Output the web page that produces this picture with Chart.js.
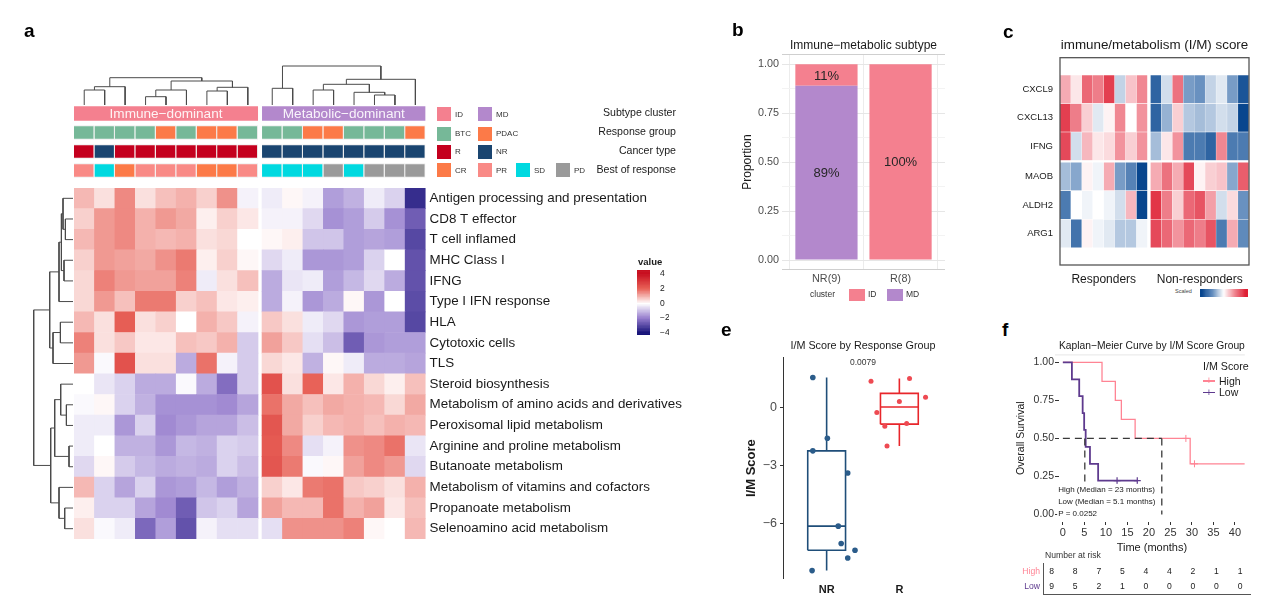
<!DOCTYPE html>
<html><head><meta charset="utf-8"><title>Immune-metabolic subtypes</title>
<script src="https://cdn.jsdelivr.net/npm/chart.js@4.4.1/dist/chart.umd.min.js"></script>
<style>
html,body{margin:0;padding:0;background:#fff;}
body{position:relative;width:1280px;height:615px;overflow:hidden;font-family:"Liberation Sans",Arial,Helvetica,sans-serif;color:#1a1a1a;}
canvas{position:absolute;}
.t{position:absolute;white-space:nowrap;line-height:1;}
.sq{position:absolute;}
</style></head><body>
<script>
// ================= DATA =================
// ---- panel a ----
const pathways = ['Antigen processing and presentation','CD8 T effector','T cell inflamed','MHC Class I','IFNG','Type I IFN response','HLA','Cytotoxic cells','TLS','Steroid biosynthesis','Metabolism of amino acids and derivatives','Peroxisomal lipid metabolism','Arginine and proline metabolism','Butanoate metabolism','Metabolism of vitamins and cofactors','Propanoate metabolism','Selenoamino acid metabolism'];
const subtypeGroups = ['Immune−dominant','Metabolic−dominant'];
const subtypeSizes = [9, 8];
const annotRows = ['Subtype cluster','Response group','Cancer type','Best of response'];
const responseGroup = ['BTC','BTC','BTC','BTC','PDAC','BTC','PDAC','PDAC','BTC','BTC','BTC','PDAC','PDAC','BTC','BTC','BTC','PDAC'];
const cancerType = ['R','NR','R','R','R','R','R','R','R','NR','NR','NR','NR','NR','NR','NR','NR'];
const bestResponse = ['PR','SD','CR','PR','PR','PR','CR','CR','PR','SD','SD','SD','PD','SD','PD','PD','PD'];
const heatA = [
 [0.9,0.4,1.5,0.4,0.8,1.0,0.6,1.4,-0.2, -0.3,0.1,-0.2,-1.5,-1.2,-0.3,-0.7,-3.5],
 [0.6,1.3,1.5,1.0,1.3,1.1,0.2,0.6,0.3, -0.2,-0.2,-0.6,-1.7,-1.5,-0.8,-1.7,-2.6],
 [0.9,1.3,1.5,1.0,0.9,1.0,0.4,0.5,0.0, 0.1,0.2,-0.9,-0.9,-1.5,-1.4,-1.5,-3.0],
 [0.6,1.3,1.2,1.1,1.4,1.7,0.2,0.6,0.1, -0.6,-0.3,-1.6,-1.6,-1.5,-0.7,0.0,-2.8],
 [0.5,1.6,1.3,1.2,1.2,1.6,-0.3,0.4,0.8, -1.3,-0.4,-0.3,-1.5,-1.1,-0.6,-1.3,-2.8],
 [0.5,1.3,0.8,1.7,1.7,0.6,0.8,0.3,0.2, -1.3,-0.2,-1.6,-1.3,0.1,-1.6,0.0,-2.9],
 [0.9,0.4,2.1,0.4,0.6,0.0,1.0,0.7,-0.2, 0.7,0.4,-0.3,-0.6,-1.6,-1.5,-1.5,-3.0],
 [1.6,0.4,0.7,0.3,0.3,0.8,0.7,1.0,-0.8, 1.2,0.7,-0.5,-1.0,-2.6,-1.6,-1.5,-1.5],
 [1.3,-0.1,2.4,0.4,0.4,-1.3,1.8,-0.2,-0.8, 0.5,0.3,-1.2,0.1,-0.3,-1.3,-1.3,-1.4],
 [0.0,-0.4,-0.7,-1.3,-1.3,-0.1,-1.3,-2.3,-0.8, 2.4,0.4,2.0,0.3,1.0,0.5,0.2,0.8],
 [-0.1,0.1,-0.7,-1.2,-1.7,-1.7,-1.7,-1.8,-1.4, 1.8,1.1,0.8,1.1,1.0,0.9,0.5,1.1],
 [-0.3,-0.3,-1.6,-0.7,-1.8,-1.6,-1.4,-1.4,-1.0, 2.3,1.1,0.6,0.9,1.0,0.8,1.0,0.9],
 [-0.3,0.0,-1.2,-1.2,-1.6,-1.1,-1.2,-0.7,-0.8, 2.2,1.5,-0.5,-0.2,1.4,1.5,1.8,-0.4],
 [-0.6,0.1,-0.8,-1.1,-1.3,-1.2,-1.3,-0.7,-1.0, 2.3,1.7,-0.1,0.1,1.2,1.5,1.3,-0.6],
 [0.9,-0.7,-1.4,-0.7,-1.6,-1.5,-1.1,-1.5,-1.2, 0.6,0.3,1.7,1.8,0.7,0.6,0.4,1.0],
 [0.2,-0.7,-0.7,-1.4,-1.8,-2.6,-0.9,-0.7,-1.4, 1.2,0.9,0.9,1.8,1.0,1.2,0.3,0.8],
 [0.4,-0.1,-0.3,-2.4,-1.5,-2.8,-0.2,-0.5,-0.5, -0.5,1.4,1.4,1.4,1.6,0.1,0.0,0.9]
];
// dendrogram merges: [childA, childB, height]; leaves 0..16, merge k -> node 17+k
const colMerges = [[0,1,15],[17,2,18.3],[3,4,8.3],[19,5,15],[6,7,14],[21,8,17.7],[20,22,24],[18,23,27.3],
 [9,10,16.7],[11,12,15],[14,15,10],[13,27,12.7],[26,28,20.7],[29,16,25.7],[25,30,39]];
const rowMerges = [[1,2,7.6],[0,17,10],[3,4,9],[18,19,11.6],[20,5,14],[6,7,12.6],[22,8,20],[21,23,23.3],
 [10,11,6.6],[9,25,12.3],[12,13,4],[26,27,18.3],[15,16,8.3],[14,29,14],[28,30,22.3],[24,31,39.3]];
const valueTicks = [-4,-2,0,2,4];
// ---- panel b ----
const propCats = ['NR(9)','R(8)'];
const propMD = [0.89, 0];
const propID = [0.11, 1.00];
const clusterKeys = ['ID','MD'];
// ---- panel c ----
const genesC = ['CXCL9','CXCL13','IFNG','MAOB','ALDH2','ARG1'];
const groupsC = ['Responders','Non-responders'];
const groupSizesC = [8, 9];
const rowGroupSizesC = [3, 3];
const heatC = [
 [0.7,0.2,1.3,1.1,1.7,-0.4,0.5,1.0, -1.6,-0.3,1.2,-0.9,-1.0,-0.4,-0.2,-0.9,-1.8],
 [1.7,1.1,0.4,-0.2,0.1,1.0,0.0,0.9, -1.6,-0.7,0.4,-0.5,-0.6,-0.5,-0.3,-0.4,-2.0],
 [1.6,-0.3,0.6,0.2,0.3,0.9,0.4,0.9, -0.6,0.2,0.9,-1.3,-1.3,-1.6,1.0,-1.3,-1.3],
 [-0.6,-0.8,0.1,-0.1,0.7,-0.9,-1.2,-2.2, 0.7,1.2,0.7,1.6,0.1,0.4,0.5,-0.8,1.4],
 [-1.3,0.0,-0.1,0.0,-0.1,-0.3,0.6,-2.2, 1.8,1.1,0.4,1.3,1.5,0.8,-0.3,0.3,-1.0],
 [-0.2,-1.4,0.1,-0.1,-0.2,-0.5,-0.5,-0.1, 1.6,1.3,0.9,1.3,1.1,1.5,-1.3,0.7,-1.1]
];
const scaledTicks = [-2,-1,0,1,2];
// ---- panel e ----
const respGroups = ['NR','R'];
const scoreNR = [1.55,-1.6,-2.25,-3.4,-6.15,-7.05,-7.4,-7.8,-8.45];
const jitterNR = [-0.19,0.01,-0.19,0.29,0.16,0.2,0.39,0.29,-0.2];
const scoreR = [1.35,1.5,0.52,0.31,-0.27,-0.98,-0.83,-2.0];
const jitterR = [-0.39,0.14,0.36,0,-0.31,-0.2,0.1,-0.17];
const pValueE = '0.0079';
const scoreTicks = [-6,-3,0];
// ---- panel f ----
const kmHighTime = [0,9.1,12.2,13.6,16.8,29.6,42.3];
const kmHighSurv = [1,0.875,0.75,0.625,0.5,0.333,0.333];
const kmLowTime = [0,2.1,3.8,4.6,4.95,5.3,6.3,8.2,17.3];
const kmLowSurv = [1,0.889,0.778,0.667,0.556,0.444,0.333,0.222,0.222];
const censorHighTime = [28.6,30.6];
const censorHighSurv = [0.5,0.333];
const censorLowTime = [12.6,17.3];
const censorLowSurv = [0.222,0.222];
const medianHigh = 23, medianLow = 5.1;
const kmTimeTicks = [0,5,10,15,20,25,30,35,40];
const kmSurvTicks = [0,0.25,0.5,0.75,1];
const kmNotes = ['High (Median = 23 months)','Low (Median = 5.1 months)','P = 0.0252'];
const riskGroups = ['High','Low'];
const riskHigh = [8,8,7,5,4,4,2,1,1];
const riskLow = [9,5,2,1,0,0,0,0,0];

// ================= STYLE / HELPERS =================
const FONT = '"Liberation Sans", Arial, Helvetica, sans-serif';
Chart.defaults.font.family = FONT;
Chart.defaults.font.size = 11;
Chart.defaults.color = '#1a1a1a';
Chart.defaults.animation = false;
Chart.defaults.events = [];
Chart.defaults.plugins.legend.display = false;
Chart.defaults.plugins.tooltip.enabled = false;

const subtypeColors = ['#F4808F','#B388CC'];
const responseColors = {BTC:'#76B898', PDAC:'#FC7A48'};
const cancerColors = {R:'#C4001E', NR:'#1A4570'};
const bestColors = {CR:'#FC7A48', PR:'#F98A86', SD:'#00D9E0', PD:'#9A9A9A'};
const pink = '#F4808F', purple = '#B388CC';

function rgb(c){return 'rgb('+c.map(v=>Math.round(v)).join(',')+')';}
function ramp(stops, v){
  if (v <= stops[0][0]) return rgb(stops[0][1]);
  for (let i=1;i<stops.length;i++){
    if (v <= stops[i][0]) {
      const [v0,c0] = stops[i-1], [v1,c1] = stops[i]; const t=(v-v0)/(v1-v0);
      return rgb(c0.map((c,k)=>c+(c1[k]-c)*t));
    }
  }
  return rgb(stops[stops.length-1][1]);
}
const stopsA = [[-4,[22,18,120]],[-2,[150,125,205]],[0,[255,255,255]],[2,[232,98,88]],[4,[200,16,32]]];
const stopsC = [[-2,[8,70,142]],[-1,[105,145,192]],[0,[255,255,255]],[1,[240,135,146]],[2,[222,32,52]]];
const colA = v => ramp(stopsA, v);
const colC = v => ramp(stopsC, v);
const noPad = s => { s.paddingTop = 0; s.paddingBottom = 0; };

function mk(left, top, w, h, cfg){
  const c = document.createElement('canvas');
  c.width = w; c.height = h;
  c.style.left = left+'px'; c.style.top = top+'px'; c.style.width = w+'px'; c.style.height = h+'px';
  document.body.appendChild(c);
  cfg.options = cfg.options || {};
  cfg.options.responsive = false;
  cfg.options.maintainAspectRatio = false;
  cfg.options.devicePixelRatio = 1;
  return new Chart(c, cfg);
}
function addText(x, y, s, o={}){
  const d = document.createElement('div'); d.className='t'; d.textContent = s;
  const size = o.size || 11; d.style.fontSize = size+'px';
  d.style.top = (y - size/2)+'px';
  if (o.align === 'right') d.style.right = (1280 - x)+'px'; else d.style.left = x+'px';
  if (o.align === 'center') d.style.transform = 'translateX(-50%)';
  if (o.bold) d.style.fontWeight = 'bold';
  if (o.color) d.style.color = o.color;
  document.body.appendChild(d); return d;
}
function addBox(x, y, w, h, color){
  const d = document.createElement('div'); d.className='sq';
  Object.assign(d.style,{left:x+'px',top:y+'px',width:w+'px',height:h+'px',background:color});
  document.body.appendChild(d);
}
function textPlugin(id, items){
  return { id, afterDatasetsDraw(chart){
    const {ctx, scales} = chart;
    items.forEach(it => {
      ctx.save(); ctx.font = it.font; ctx.textAlign = it.align || 'center'; ctx.textBaseline = 'middle';
      const px = scales.x.getPixelForValue(it.x), py = scales.y.getPixelForValue(it.y);
      if (it.bg) {
        const w = ctx.measureText(it.text).width, h = it.h || 10;
        const x0 = ctx.textAlign === 'left' ? px : px - w/2;
        ctx.fillStyle = it.bg; ctx.fillRect(x0 - 1, py - h/2, w + 2, h);
      }
      ctx.fillStyle = it.color || '#1a1a1a'; ctx.fillText(it.text, px, py); ctx.restore();
    });
  }};
}
function dendroSegments(merges, leafPos){
  const pos = leafPos.slice(), ht = leafPos.map(()=>0);
  return merges.map(([a,b,h]) => {
    const seg = [[pos[a],ht[a]],[pos[a],h],[pos[b],h],[pos[b],ht[b]]];
    pos.push((pos[a]+pos[b])/2); ht.push(h); return seg;
  });
}

// ================= PANEL a =================
const nColA = heatA[0].length;
const GAPA = 4/20.45;
const colX = i => i + (i >= subtypeSizes[0] ? GAPA : 0);
const XMAXA = nColA + GAPA;
const PLOTWA = 351.6;

// heatmap body
const cellsA = [];
heatA.forEach((row, r) => row.forEach((v, c) => cellsA.push({x:[colX(c), colX(c)+1], y: pathways[r], v})));
mk(70, 186, 640, 356, {
  type:'bar',
  data:{ labels: pathways, datasets:[{ data: cellsA, grouped:false, barPercentage:1, categoryPercentage:1,
    backgroundColor: c => c.raw ? colA(c.raw.v) : '#fff', borderWidth:0 }]},
  options:{ indexAxis:'y', layout:{padding:{left:4,right:0,top:2,bottom:3}},
    scales:{
      x:{type:'linear', min:0, max:XMAXA, display:false},
      y:{type:'category', position:'right', grid:{display:false, drawTicks:false}, border:{display:false},
         ticks:{autoSkip:false, font:{size:13.4}, color:'#1a1a1a', padding:4},
         afterFit: s => { s.width = 640 - 4 - PLOTWA; noPad(s); }}
    }}
});

// annotation bars
const annItems = [];
let startA = 0;
subtypeSizes.forEach((n, g) => { annItems.push({x:[colX(startA), colX(startA+n-1)+1], y: annotRows[0], c: subtypeColors[g], label: subtypeGroups[g]}); startA += n; });
responseGroup.forEach((k,i) => annItems.push({x:[colX(i), colX(i)+1], y: annotRows[1], c: responseColors[k]}));
cancerType.forEach((k,i) => annItems.push({x:[colX(i), colX(i)+1], y: annotRows[2], c: cancerColors[k]}));
bestResponse.forEach((k,i) => annItems.push({x:[colX(i), colX(i)+1], y: annotRows[3], c: bestColors[k]}));
const subtypeLabelPlugin = { id:'subtypeLabels', afterDatasetsDraw(chart){
  const ctx = chart.ctx, meta = chart.getDatasetMeta(0), ds = chart.data.datasets[0].data;
  ctx.save(); ctx.font = '13.6px ' + FONT; ctx.fillStyle = 'rgba(255,255,255,0.9)'; ctx.textAlign='center'; ctx.textBaseline='middle';
  meta.data.forEach((el,i) => { if (ds[i].label) ctx.fillText(ds[i].label, (el.x + el.base)/2, el.y + 0.5); });
  ctx.restore();
}};
mk(70, 100, 610, 82, {
  type:'bar',
  data:{ labels: annotRows, datasets:[{ data: annItems, grouped:false, barPercentage:1, categoryPercentage:0.77,
    backgroundColor: c => c.raw ? c.raw.c : '#fff',
    borderColor: 'rgba(235,235,235,1)', borderWidth: c => (c.raw && c.raw.label) ? 0 : 1 }]},
  options:{ indexAxis:'y', layout:{padding:{left:4,right:4,top:4,bottom:2}},
    scales:{
      x:{type:'linear', min:0, max:XMAXA, display:false},
      y:{type:'category', position:'right', grid:{display:false, drawTicks:false}, border:{display:false},
         ticks:{autoSkip:false, crossAlign:'far', font:{size:10.6}, color:'#1a1a1a', padding:0},
         afterFit: s => { s.width = 610 - 8 - PLOTWA; noPad(s); }}
    }},
  plugins:[subtypeLabelPlugin]
});

// annotation legend (keys)
const legendRowsA = [
  [['ID',subtypeColors[0]],['MD',subtypeColors[1]]],
  [['BTC',responseColors.BTC],['PDAC',responseColors.PDAC]],
  [['R',cancerColors.R],['NR',cancerColors.NR]],
  [['CR',bestColors.CR],['PR',bestColors.PR],['SD',bestColors.SD],['PD',bestColors.PD]]
];
const legXA = [437, 478, 516, 556], legYA = [107, 126.5, 144.5, 163];
legendRowsA.forEach((row, r) => row.forEach(([lab, col], k) => {
  addBox(legXA[k], legYA[r], 14, 14, col);
  addText(legXA[k] + 18, legYA[r] + 7.5, lab, {size:8, color:'#333'});
}));

// column dendrogram
const leafPosCols = heatA[0].map((_, i) => colX(i) + 0.5);
const colSegs = dendroSegments(colMerges, leafPosCols);
mk(70, 55, 360, 51, {
  type:'scatter',
  data:{ datasets: colSegs.map(seg => ({ data: seg.map(([p,h]) => ({x:p, y:h})), showLine:true, borderColor:'#4a4a4a', borderWidth:1, pointRadius:0, clip:false })) },
  options:{ layout:{padding:{left:4,right:360-4-PLOTWA,top:2,bottom:1}},
    scales:{ x:{type:'linear', min:0, max:XMAXA, display:false}, y:{type:'linear', min:0, max:48, display:false} } }
});
// row dendrogram
const leafPosRows = pathways.map((_, i) => i + 0.5);
const rowSegs = dendroSegments(rowMerges, leafPosRows);
mk(28, 186, 46, 356, {
  type:'scatter',
  data:{ datasets: rowSegs.map(seg => ({ data: seg.map(([p,h]) => ({x:h, y:p})), showLine:true, borderColor:'#4a4a4a', borderWidth:1, pointRadius:0, clip:false })) },
  options:{ layout:{padding:{left:2,right:1,top:2,bottom:3}},
    scales:{ x:{type:'linear', min:0, max:43, reverse:true, display:false}, y:{type:'linear', min:0, max:pathways.length, reverse:true, display:false} } }
});

// value colorbar
const barStepsA = [];
for (let v = -4.3; v < 4.5 - 1e-9; v += 0.2) barStepsA.push({x:'value', y:[v, v+0.2], c: colA(v+0.1)});
mk(637, 266, 32, 73, {
  type:'bar',
  data:{ labels:['value'], datasets:[{ data: barStepsA, grouped:false, barPercentage:1, categoryPercentage:1, backgroundColor: c => c.raw ? c.raw.c : '#fff', borderWidth:0 }]},
  options:{ layout:{padding:{left:0,right:0,top:4,bottom:4}},
    scales:{
      x:{display:false},
      y:{type:'linear', position:'right', min:-4.3, max:4.5, grid:{display:false}, border:{display:false},
         afterBuildTicks: s => { s.ticks = valueTicks.map(v => ({value:v})); },
         ticks:{font:{size:8.5}, color:'#1a1a1a', padding:2, callback: v => v < 0 ? '−' + Math.abs(v) : String(v)},
         afterFit: s => { s.width = 19; noPad(s); }}
    }}
});
addText(638, 261.5, 'value', {size:9.5, bold:true});

// ================= PANEL b =================
const pctPlugin = { id:'pct', afterDatasetsDraw(chart){
  const ctx = chart.ctx; ctx.save(); ctx.font = '13px ' + FONT; ctx.fillStyle = '#262626'; ctx.textAlign='center'; ctx.textBaseline='middle';
  chart.data.datasets.forEach((ds, di) => chart.getDatasetMeta(di).data.forEach((el, i) => {
    const v = ds.data[i].y; if (v > 0) ctx.fillText(Math.round(v*100) + '%', el.x, (el.y + el.base)/2 + 1);
  }));
  ctx.restore();
}};
const quarter = v => Math.abs(v*4 - Math.round(v*4)) < 1e-6;
mk(735, 38, 212, 248, {
  type:'bar',
  data:{ datasets:[
    { data: propMD.map((v,i) => ({x:i+1, y:v})), backgroundColor: purple, barPercentage:0.84, categoryPercentage:1 },
    { data: propID.map((v,i) => ({x:i+1, y:v})), backgroundColor: pink, barPercentage:0.84, categoryPercentage:1 }
  ]},
  options:{ layout:{padding:{left:0,right:2,top:0,bottom:0}},
    plugins:{ title:{display:true, text:'Immune−metabolic subtype', fullSize:false, font:{size:12, weight:'normal'}, color:'#1a1a1a', padding:{top:0,bottom:2}} },
    scales:{
      x:{type:'linear', stacked:true, min:0.4, max:2.6, offset:false,
         afterBuildTicks: s => { s.ticks = propCats.map((_, i) => ({value:i+1})); },
         ticks:{font:{size:10.8}, color:'#4d4d4d', padding:3, maxRotation:0, callback: (v, i) => propCats[i]},
         grid:{color:'#ececec', drawTicks:false}, border:{display:false},
         afterFit: s => { s.height = 16.2; }},
      y:{type:'linear', stacked:true, min:-0.05, max:1.05,
         afterBuildTicks: s => { const t=[-0.05]; for (let k=0;k<=8;k++) t.push(k/8); t.push(1.05); s.ticks = t.map(v=>({value:v})); },
         ticks:{font:{size:10.8}, color:'#4d4d4d', padding:3, callback: v => quarter(v) && v >= 0 && v <= 1 ? v.toFixed(2) : ''},
         grid:{drawTicks:false, color: c => { const v = c.tick ? c.tick.value : 0; if (v < 0 || v > 1) return '#cfcfcf'; return quarter(v) ? '#e6e6e6' : '#f3f3f3'; }},
         border:{display:false},
         title:{display:true, text:'Proportion', font:{size:12}, color:'#1a1a1a', padding:{top:5,bottom:0}},
         afterFit: s => { s.width = 47; }}
    }},
  plugins:[pctPlugin]
});
addText(810, 294, 'cluster', {size:8.5, color:'#333'});
addBox(849, 288.5, 16, 12, pink); addText(868, 294, clusterKeys[0], {size:8.5, color:'#333'});
addBox(887, 288.5, 16, 12, purple); addText(906, 294, clusterKeys[1], {size:8.5, color:'#333'});

// ================= PANEL c =================
const GAPXC = 3/10.94, GAPYC = 2/34.2;
const colXC = i => i + (i >= groupSizesC[0] ? GAPXC : 0);
const rowPosC = genesC.map((_, i) => i + (i >= rowGroupSizesC[0] ? GAPYC : 0));
const cellsC = [];
heatC.forEach((row, r) => row.forEach((v, c) => cellsC.push({x:[colXC(c), colXC(c)+1], y: rowPosC[r], v})));
const groupCentersC = [groupSizesC[0]/2, colXC(groupSizesC[0]) + groupSizesC[1]/2];
const frameC = { id:'frameC', afterDatasetsDraw(chart){
  const {ctx, chartArea:a} = chart; ctx.save(); ctx.strokeStyle='#555'; ctx.lineWidth=1.3;
  ctx.strokeRect(a.left, a.top, a.right-a.left, a.bottom-a.top); ctx.restore();
}};
mk(1000, 37, 252, 250, {
  type:'bar',
  data:{ datasets:[{ data: cellsC, grouped:false, barPercentage:1, categoryPercentage:1,
    backgroundColor: c => c.raw ? colC(c.raw.v) : '#fff', borderColor:'rgba(255,255,255,0.55)', borderWidth:0.6 }]},
  options:{ indexAxis:'y', layout:{padding:{left:0,right:3,top:0,bottom:0}},
    plugins:{ title:{display:true, text:'immune/metabolism (I/M) score', fullSize:false, font:{size:13.4, weight:'normal'}, color:'#1a1a1a', padding:{top:0,bottom:4.6}} },
    scales:{
      x:{type:'linear', min:0, max: heatC[0].length + GAPXC, grid:{display:false, drawTicks:false}, border:{display:false},
         afterBuildTicks: s => { s.ticks = groupCentersC.map(v => ({value:v})); },
         ticks:{font:{size:12}, color:'#1a1a1a', padding:7, maxRotation:0, autoSkip:false, callback:(v,i) => groupsC[i]},
         afterFit: s => { s.height = 22; }},
      y:{type:'linear', min:-0.5, max: genesC.length - 0.5 + GAPYC, reverse:true, grid:{display:false, drawTicks:false}, border:{display:false},
         afterBuildTicks: s => { s.ticks = rowPosC.map(v => ({value:v})); },
         ticks:{font:{size:9.5}, color:'#1a1a1a', padding:7, autoSkip:false, callback:(v,i) => genesC[i]},
         afterFit: s => { s.width = 60; noPad(s); }}
    }},
  plugins:[frameC]
});
// Scaled colorbar
const barStepsC = [];
for (let v = -2.2; v < 2.2 - 1e-9; v += 0.1) barStepsC.push({y:'s', x:[v, v+0.1], c: colC(v+0.05)});
mk(1199, 288, 54, 15, {
  type:'bar',
  data:{ labels:['s'], datasets:[{ data: barStepsC, grouped:false, barPercentage:1, categoryPercentage:1, backgroundColor: c => c.raw ? c.raw.c : '#fff', borderWidth:0 }]},
  options:{ indexAxis:'y', layout:{padding:{left:1,right:5,top:1,bottom:0}},
    scales:{
      y:{display:false},
      x:{type:'linear', min:-2.2, max:2.2, grid:{display:false}, border:{display:false},
         afterBuildTicks: s => { s.ticks = scaledTicks.map(v => ({value:v})); },
         ticks:{font:{size:4}, color:'#555', padding:0, maxRotation:0, autoSkip:false},
         afterFit: s => { s.height = 6; }}
    }}
});
addText(1175, 292, 'Scaled', {size:5.5, color:'#444'});

// ================= PANEL e =================
function quantile(arr, p){ const s=[...arr].sort((a,b)=>a-b); const h=(s.length-1)*p; const lo=Math.floor(h); const hi=Math.min(lo+1, s.length-1); return s[lo] + (s[hi]-s[lo])*(h-lo); }
function boxStats(arr){
  const q1=quantile(arr,0.25), med=quantile(arr,0.5), q3=quantile(arr,0.75), iqr=q3-q1;
  return {q1, med, q3, lo: Math.min(...arr.filter(v => v >= q1-1.5*iqr)), hi: Math.max(...arr.filter(v => v <= q3+1.5*iqr))};
}
const HW = 0.26;
const boxColors = ['#1F4E79','#E8262B'], ptColors = ['#2B5C8A','#EE4A52'];
const groupsE = [{vals:scoreNR, jit:jitterNR}, {vals:scoreR, jit:jitterR}];
const dsE = [];
groupsE.forEach((g, gi) => {
  const x = gi + 1, s = boxStats(g.vals), col = boxColors[gi];
  const line = pts => ({ data: pts.map(([a,b]) => ({x:a, y:b})), showLine:true, borderColor:col, borderWidth:1.6, pointRadius:0 });
  dsE.push(line([[x-HW,s.q1],[x+HW,s.q1],[x+HW,s.q3],[x-HW,s.q3],[x-HW,s.q1]]));
  dsE.push(line([[x-HW,s.med],[x+HW,s.med]]));
  dsE.push(line([[x,s.q3],[x,s.hi]]));
  dsE.push(line([[x,s.q1],[x,s.lo]]));
});
groupsE.forEach((g, gi) => dsE.unshift({ data: g.vals.map((v,i) => ({x: gi+1+g.jit[i], y:v})), pointRadius: gi===0 ? 2.8 : 2.5, pointBackgroundColor: ptColors[gi], pointBorderWidth:0, showLine:false }));
mk(735, 340, 212, 262, {
  type:'scatter',
  data:{ datasets: dsE },
  options:{ layout:{padding:{left:0,right:2,top:0,bottom:0}},
    plugins:{ title:{display:true, text:'I/M Score by Response Group', fullSize:false, font:{size:10.8, weight:'normal'}, color:'#1a1a1a', padding:{top:0,bottom:5}} },
    scales:{
      x:{type:'linear', min:0.4, max:2.6, grid:{display:false, drawTicks:false}, border:{display:false},
         afterBuildTicks: s => { s.ticks = respGroups.map((_, i) => ({value:i+1})); },
         ticks:{font:{size:11, weight:'bold'}, color:'#1a1a1a', padding:5, callback:(v,i) => respGroups[i]},
         afterFit: s => { s.height = 23.7; }},
      y:{type:'linear', min:-8.85, max:2.56,
         afterBuildTicks: s => { s.ticks = scoreTicks.map(v => ({value:v})); },
         ticks:{font:{size:12.5}, color:'#4d4d4d', padding:3, callback: v => v < 0 ? '−' + Math.abs(v) : String(v)},
         grid:{drawOnChartArea:false, drawTicks:true, tickLength:3, color:'#333'},
         border:{display:true, color:'#333', width:1},
         title:{display:true, text:'I/M Score', font:{size:13, weight:'bold'}, color:'#1a1a1a', padding:{top:9,bottom:0}},
         afterFit: s => { s.width = 48; }}
    }},
  plugins:[textPlugin('pE', [{x:1.5, y:2.32, text:pValueE, font:'8.5px ' + FONT, color:'#333'}])]
});

// ================= PANEL f =================
const hiCol = '#FF8494', loCol = '#5E3A8E';
const topRuleF = { id:'topRuleF', beforeDatasetsDraw(chart){
  const {ctx, chartArea:a} = chart; ctx.save(); ctx.strokeStyle='#e6e6e6'; ctx.lineWidth=1;
  ctx.beginPath(); ctx.moveTo(a.left-4, a.top+0.5); ctx.lineTo(a.right, a.top+0.5); ctx.stroke(); ctx.restore();
}};
const dashed = pts => ({ data: pts.map(([a,b]) => ({x:a, y:b})), showLine:true, borderColor:'#3a3a3a', borderWidth:1.3, borderDash:[7,5], pointRadius:0 });
mk(1015, 339, 235, 216, {
  type:'scatter',
  data:{ datasets:[
    dashed([[0,0.5],[medianHigh,0.5]]),
    dashed([[medianHigh,0.5],[medianHigh,0]]),
    dashed([[medianLow,0.5],[medianLow,0]]),
    { data: censorHighTime.map((t,i) => ({x:t, y:censorHighSurv[i]})), pointStyle:'cross', pointRadius:3.5, borderColor:hiCol, borderWidth:1, showLine:false },
    { data: censorLowTime.map((t,i) => ({x:t, y:censorLowSurv[i]})), pointStyle:'cross', pointRadius:3.5, borderColor:loCol, borderWidth:1.2, showLine:false },
    { data: kmLowTime.map((t,i) => ({x:t, y:kmLowSurv[i]})), showLine:true, stepped:'before', borderColor:loCol, borderWidth:1.8, pointRadius:0 },
    { data: kmHighTime.map((t,i) => ({x:t, y:kmHighSurv[i]})), showLine:true, stepped:'before', borderColor:hiCol, borderWidth:1.3, pointRadius:0 }
  ]},
  options:{ layout:{padding:{left:0,right:2,top:0,bottom:0}},
    plugins:{ title:{display:true, text:'Kaplan−Meier Curve by I/M Score Group', fullSize:false, font:{size:11, weight:'normal'}, color:'#1a1a1a', padding:{top:0,bottom:2.2}} },
    scales:{
      x:{type:'linear', min:-0.9, max:42.3,
         afterBuildTicks: s => { s.ticks = kmTimeTicks.map(v => ({value:v})); },
         ticks:{font:{size:11}, color:'#333', padding:1},
         grid:{drawOnChartArea:false, drawTicks:true, tickLength:3, color:'#333'}, border:{display:false},
         title:{display:true, text:'Time (months)', font:{size:11}, color:'#1a1a1a', padding:{top:0,bottom:0}},
         afterFit: s => { s.height = 33; }},
      y:{type:'linear', min:-0.05, max:1.053,
         afterBuildTicks: s => { s.ticks = kmSurvTicks.map(v => ({value:v})); },
         ticks:{font:{size:10.5}, color:'#333', padding:1, callback: v => v.toFixed(2)},
         grid:{drawOnChartArea:false, drawTicks:true, tickLength:4, color:'#333'}, border:{display:false},
         title:{display:true, text:'Overall Survival', font:{size:10.5}, color:'#1a1a1a', padding:{top:0,bottom:0}},
         afterFit: s => { s.width = 44; }}
    }},
  plugins:[topRuleF, textPlugin('kmNotes', kmNotes.map((t, i) => ({x:-1.1, y:[0.165,0.082,0.006][i], text:t, font:'8px ' + FONT, align:'left', bg:'#fff', h:11, color:'#1a1a1a'})))]
});
// legend of f
addText(1203, 366, 'I/M Score', {size:10.7});
[[hiCol, 'High', 381], [loCol, 'Low', 392.5]].forEach(([col, lab, y]) => {
  addBox(1203, y - 0.7, 12, 1.4, col);
  addText(1206, y, '+', {size:10, color:col});
  addText(1219, y, lab, {size:10.5});
});
// risk table
const riskNumPlugin = { id:'riskNums', afterDatasetsDraw(chart){
  const ctx = chart.ctx; ctx.save(); ctx.font = '8.6px ' + FONT; ctx.fillStyle='#1a1a1a'; ctx.textAlign='center'; ctx.textBaseline='middle';
  chart.data.datasets.forEach((ds, di) => chart.getDatasetMeta(di).data.forEach((el, i) => ctx.fillText(String(ds.data[i].n), el.x, el.y + 0.5)));
  ctx.restore();
}};
const riskCols = [hiCol, loCol];
mk(1000, 560, 252, 37, {
  type:'scatter',
  data:{ labels: riskGroups, datasets:[riskHigh, riskLow].map((arr, gi) => ({ data: arr.map((n, j) => ({x: kmTimeTicks[j], y: riskGroups[gi], n})), pointRadius:0 })) },
  options:{ layout:{padding:{left:0,right:2,top:3.5,bottom:2}},
    scales:{
      x:{type:'linear', min:-1.85, max:42.12, ticks:{display:false}, grid:{display:false, drawTicks:false}, border:{display:true, color:'#555', width:1},
         afterFit: s => { s.height = 1; }},
      y:{type:'category', labels: riskGroups, offset:true, grid:{display:false, drawTicks:false}, border:{display:true, color:'#555', width:1},
         ticks:{font:{size:8.6}, padding:3, color: c => riskCols[c.index]},
         afterFit: s => { s.width = 43; noPad(s); }}
    }},
  plugins:[riskNumPlugin]
});
addText(1045, 555, 'Number at risk', {size:8.6, color:'#333'});

// ================= panel letters =================
[['a',24,30],['b',732,29],['c',1003,31],['e',721,329],['f',1002,329]].forEach(([l,x,y]) => addText(x, y, l, {size:19, bold:true, color:'#000'}));
</script>
</body></html>
